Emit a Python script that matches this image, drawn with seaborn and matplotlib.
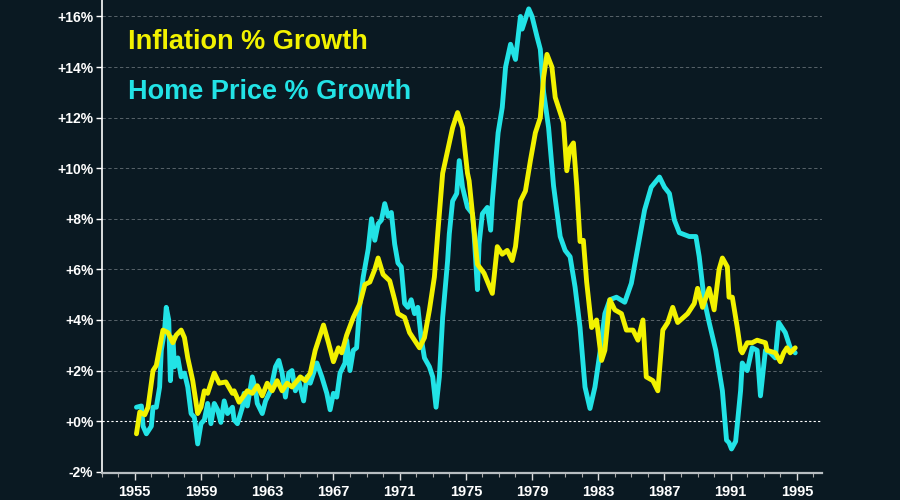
import numpy as np
import pandas as pd
import matplotlib
matplotlib.use("Agg")
import matplotlib.pyplot as plt
from matplotlib.ticker import FuncFormatter, MultipleLocator, FixedLocator
import seaborn as sns

# inflation, year-over-year %
infl_year = [1955.1, 1955.3, 1955.6, 1955.8, 1956.1, 1956.3, 1956.5, 1956.7, 1957.0, 1957.3,
             1957.5, 1957.8, 1958.0, 1958.2, 1958.5, 1958.8, 1959.0, 1959.2, 1959.4, 1959.8,
             1960.1, 1960.5, 1960.9, 1961.0, 1961.3, 1961.8, 1962.1, 1962.4, 1962.7, 1963.0,
             1963.3, 1963.6, 1963.9, 1964.2, 1964.5, 1965.0, 1965.3, 1965.6, 1965.9, 1966.4,
             1966.7, 1967.0, 1967.3, 1967.5, 1967.8, 1968.2, 1968.6, 1968.9, 1969.2, 1969.5,
             1969.7, 1970.0, 1970.4, 1970.7, 1970.9, 1971.3, 1971.6, 1971.9, 1972.2, 1972.5,
             1972.8, 1973.1, 1973.3, 1973.6, 1973.9, 1974.2, 1974.5, 1974.8, 1975.1, 1975.2,
             1975.4, 1975.7, 1976.1, 1976.6, 1976.9, 1977.2, 1977.5, 1977.8, 1978.0, 1978.3,
             1978.6, 1978.9, 1979.2, 1979.5, 1979.7, 1979.9, 1980.2, 1980.4, 1980.7, 1980.9,
             1981.1, 1981.3, 1981.5, 1981.7, 1981.9, 1982.1, 1982.3, 1982.6, 1982.9, 1983.2,
             1983.4, 1983.7, 1984.0, 1984.4, 1984.7, 1985.1, 1985.4, 1985.7, 1985.9, 1986.3,
             1986.6, 1986.9, 1987.2, 1987.5, 1987.8, 1988.4, 1988.8, 1989.0, 1989.3, 1989.7,
             1990.0, 1990.3, 1990.5, 1990.8, 1990.9, 1991.1, 1991.4, 1991.6, 1991.7, 1992.0,
             1992.3, 1992.6, 1993.1, 1993.2, 1993.7, 1994.0, 1994.2, 1994.4, 1994.6, 1994.9]
infl_pct = [-0.5, 0.36, 0.25, 0.55, 2.0, 2.2, 2.9, 3.6, 3.5, 3.1,
            3.4, 3.6, 3.3, 2.5, 1.6, 0.3, 0.55, 1.2, 1.1, 1.9,
            1.5, 1.55, 1.1, 1.2, 0.75, 1.2, 1.1, 1.4, 1.0, 1.5,
            1.2, 1.6, 1.2, 1.5, 1.35, 1.75, 1.6, 1.9, 2.8, 3.8,
            3.1, 2.35, 2.9, 2.7, 3.4, 4.1, 4.65, 5.4, 5.5, 6.0,
            6.45, 5.8, 5.55, 4.8, 4.25, 4.1, 3.5, 3.2, 2.9, 3.3,
            4.4, 5.7, 7.4, 9.8, 10.7, 11.6, 12.2, 11.6, 9.8, 9.5,
            8.2, 6.2, 5.85, 5.05, 6.9, 6.6, 6.75, 6.35, 6.9, 8.7,
            9.1, 10.3, 11.4, 12.0, 13.6, 14.5, 14.0, 12.8, 12.2, 11.8,
            9.9, 10.8, 11.0, 9.3, 7.1, 7.15, 5.5, 3.7, 4.0, 2.4,
            2.8, 4.8, 4.4, 4.25, 3.6, 3.6, 3.2, 4.0, 1.75, 1.6,
            1.2, 3.6, 3.9, 4.5, 3.9, 4.25, 4.65, 5.25, 4.5, 5.25,
            4.4, 6.0, 6.45, 6.1, 4.9, 4.9, 3.7, 2.8, 2.7, 3.1,
            3.1, 3.2, 3.1, 2.8, 2.7, 2.35, 2.7, 2.9, 2.7, 2.9]

# home prices, year-over-year %
home_year = [1955.1, 1955.4, 1955.5, 1955.7, 1956.0, 1956.1, 1956.3, 1956.5, 1956.6, 1956.8,
             1956.9, 1957.05, 1957.15, 1957.3, 1957.4, 1957.6, 1957.8, 1958.0, 1958.2, 1958.4,
             1958.6, 1958.8, 1959.0, 1959.2, 1959.4, 1959.6, 1959.8, 1960.0, 1960.2, 1960.4,
             1960.6, 1960.9, 1961.0, 1961.2, 1961.5, 1961.6, 1961.8, 1962.1, 1962.3, 1962.4,
             1962.7, 1962.9, 1963.2, 1963.5, 1963.7, 1963.9, 1964.1, 1964.3, 1964.5, 1964.7,
             1964.9, 1965.2, 1965.4, 1965.6, 1966.0, 1966.3, 1966.6, 1966.8, 1967.0, 1967.2,
             1967.4, 1967.7, 1967.8, 1968.0, 1968.2, 1968.4, 1968.6, 1968.8, 1969.1, 1969.3,
             1969.5, 1969.7, 1969.9, 1970.1, 1970.3, 1970.5, 1970.7, 1970.9, 1971.1, 1971.3,
             1971.5, 1971.7, 1971.9, 1972.1, 1972.3, 1972.5, 1972.8, 1973.0, 1973.2, 1973.4,
             1973.6, 1973.9, 1974.0, 1974.2, 1974.45, 1974.6, 1974.8, 1975.1, 1975.4, 1975.5,
             1975.7, 1975.8, 1976.0, 1976.3, 1976.5, 1976.6, 1976.85, 1976.95, 1977.2, 1977.4,
             1977.7, 1978.0, 1978.3, 1978.4, 1978.8, 1979.0, 1979.3, 1979.5, 1979.7, 1980.0,
             1980.3, 1980.7, 1981.0, 1981.3, 1981.6, 1981.9, 1982.2, 1982.5, 1982.8, 1983.1,
             1983.4, 1983.7, 1984.1, 1984.6, 1985.0, 1985.4, 1985.8, 1986.2, 1986.7, 1987.0,
             1987.3, 1987.6, 1987.9, 1988.5, 1988.9, 1989.1, 1989.4, 1989.7, 1990.1, 1990.5,
             1990.75, 1990.9, 1991.05, 1991.3, 1991.6, 1991.7, 1992.0, 1992.3, 1992.6, 1992.8,
             1993.1, 1993.4, 1993.7, 1993.9, 1994.1, 1994.3, 1994.6, 1994.9]
home_pct = [0.55, 0.6, -0.2, -0.5, -0.2, 0.55, 0.55, 1.35, 2.8, 3.6,
            4.5, 4.0, 1.6, 3.3, 2.15, 2.5, 1.75, 1.9, 1.35, 0.3,
            0.15, -0.9, -0.1, 0.05, 0.7, -0.1, 0.7, 0.45, -0.05, 0.8,
            0.3, 0.55, 0.05, -0.1, 0.55, 1.1, 0.6, 1.75, 1.2, 0.7,
            0.3, 0.8, 1.2, 2.15, 2.4, 1.9, 0.95, 1.9, 2.0, 1.2,
            1.6, 0.8, 1.75, 1.5, 2.3, 1.75, 1.1, 0.45, 1.1, 0.95,
            1.9, 2.3, 3.2, 2.0, 2.8, 2.9, 4.65, 5.7, 6.8, 8.0,
            7.15, 7.8, 7.95, 8.6, 8.1, 8.25, 7.0, 6.25, 6.1, 4.65,
            4.5, 4.8, 4.25, 4.5, 3.3, 2.5, 2.15, 1.75, 0.55, 1.75,
            4.1, 6.35, 7.4, 8.7, 9.0, 10.3, 9.25, 8.45, 8.2, 7.4,
            5.2, 7.0, 8.2, 8.45, 7.55, 8.7, 10.6, 11.4, 12.4, 14.0,
            14.9, 14.3, 16.0, 15.5, 16.3, 16.0, 15.2, 14.7, 13.0, 11.6,
            9.3, 7.3, 6.75, 6.5, 5.3, 3.7, 1.35, 0.5, 1.35, 2.7,
            4.25, 4.8, 4.9, 4.7, 5.45, 6.9, 8.35, 9.25, 9.65, 9.25,
            9.0, 7.95, 7.45, 7.3, 7.3, 6.5, 4.8, 3.9, 2.8, 1.2,
            -0.75, -0.85, -1.1, -0.8, 1.2, 2.3, 2.0, 2.9, 2.8, 1.0,
            2.8, 2.7, 2.5, 3.9, 3.7, 3.5, 2.9, 2.7]

labels = ["Inflation % Growth", "Home Price % Growth"]
major_years = list(range(1955, 1996, 4))

bg = "#0a1922"
yellow = "#f2f200"
cyan = "#22e3e6"

df = pd.concat([
    pd.DataFrame({"year": infl_year, "pct": infl_pct, "series": labels[0]}),
    pd.DataFrame({"year": home_year, "pct": home_pct, "series": labels[1]}),
])

sns.set_style("dark")
plt.rcParams["font.family"] = ["Liberation Sans", "DejaVu Sans"]
plt.rcParams["font.weight"] = "bold"

fig = plt.figure(figsize=(9, 5), dpi=100, facecolor=bg)
ax = fig.add_axes([0.113, 0.054, 0.80, 0.946])
ax.set_facecolor(bg)

# horizontal grid
for v in range(0, 17, 2):
    if v == 0:
        ax.axhline(v, color="white", lw=0.8, ls=(0, (2, 2)), zorder=1)
    else:
        ax.axhline(v, color="#8a9298", lw=0.6, ls=(0, (4, 3)), alpha=0.7, zorder=1)

# home prices drawn first so inflation sits on top
line_kw = dict(lw=3.5, estimator=None, sort=False,
               solid_joinstyle="round", solid_capstyle="round")
sns.lineplot(data=df[df.series == labels[1]], x="year", y="pct", color=cyan,
             ax=ax, zorder=3, **line_kw)
sns.lineplot(data=df[df.series == labels[0]], x="year", y="pct", color=yellow,
             ax=ax, zorder=4, **line_kw)

ax.set_xlim(1953.0, 1996.5)
ax.set_ylim(-2.05, 16.65)
ax.set_xlabel("")
ax.set_ylabel("")

ax.xaxis.set_major_locator(FixedLocator(major_years))
ax.xaxis.set_minor_locator(MultipleLocator(1))
ax.yaxis.set_major_locator(MultipleLocator(2))
ax.yaxis.set_major_formatter(FuncFormatter(lambda v, p: f"{v:+.0f}%"))

ax.tick_params(axis="x", which="major", length=5, width=1, color="#dddddd",
               labelsize=10.5, labelcolor="white", pad=4, bottom=True)
ax.tick_params(axis="x", which="minor", length=3, width=0.8, color="#aaaaaa", bottom=True)
ax.tick_params(axis="y", which="major", length=4, width=1, color="white",
               labelsize=10, labelcolor="white", pad=2, left=True)
for lab in ax.get_xticklabels() + ax.get_yticklabels():
    lab.set_fontweight("bold")

for s in ["top", "right"]:
    ax.spines[s].set_visible(False)
ax.spines["left"].set_color("white")
ax.spines["left"].set_linewidth(1.2)
ax.spines["bottom"].set_color("#b8bec2")
ax.spines["bottom"].set_linewidth(1.6)
ax.grid(False)

ax.text(0.036, 0.911, labels[0], transform=ax.transAxes, color=yellow,
        fontsize=19.5, fontweight="bold", va="center", ha="left")
ax.text(0.036, 0.805, labels[1], transform=ax.transAxes, color=cyan,
        fontsize=19.5, fontweight="bold", va="center", ha="left")

if ax.get_legend() is not None:
    ax.get_legend().remove()

fig.savefig("out.png", dpi=100, facecolor=bg)
